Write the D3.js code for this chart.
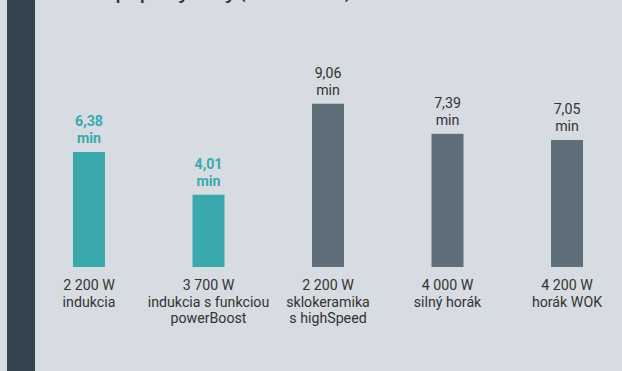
<!DOCTYPE html>
<html><head><meta charset="utf-8">
<script src="https://cdn.jsdelivr.net/npm/d3@7"></script>
<style>html,body{margin:0;padding:0;background:#d6dce1;overflow:hidden}</style>
</head><body>
<script>
const categories = ["2 200 W|indukcia", "3 700 W|indukcia s funkciou|powerBoost", "2 200 W|sklokeramika|s highSpeed", "4 000 W|silný horák", "4 200 W|horák WOK"];
const values = [6.38, 4.01, 9.06, 7.39, 7.05];
const valueLabels = ["6,38", "4,01", "9,06", "7,39", "7,05"];
const highlight = [true, true, false, false, false];
const title = "Čas prípravy vody (v minútach)";

const W = 622, H = 371;
const svg = d3.select("body").append("svg").attr("width", W).attr("height", H);
svg.append("rect").attr("width", W).attr("height", H).attr("fill", "#d6dce1");
svg.append("rect").attr("x", 7).attr("y", 0).attr("width", 28).attr("height", H).attr("fill", "#33444f");

svg.append("text").attr("x", 80).attr("y", -1).attr("font-family", "Noto Sans").attr("font-weight", 600)
  .attr("font-size", 18).attr("fill", "#333").text(title);

const x = d3.scalePoint().domain(d3.range(categories.length)).range([89, 567]);
const y = d3.scaleLinear().domain([0, 10]).range([267, 86.8]);
const bw = 32;
const teal = "#3aa9ad", grey = "#5e6f79";
const font = "Roboto";

const g = svg.append("g").attr("font-family", font);
g.selectAll("rect.bar").data(values).join("rect").attr("class", "bar")
  .attr("x", (d, i) => x(i) - bw / 2).attr("width", bw)
  .attr("y", d => y(d)).attr("height", d => y(0) - y(d))
  .attr("fill", (d, i) => highlight[i] ? teal : grey);

values.forEach((d, i) => {
  [valueLabels[i], "min"].forEach((t, j) => {
    g.append("text").attr("text-anchor", "middle").attr("font-size", 14.2)
      .attr("fill", highlight[i] ? teal : "#333")
      .attr("font-weight", highlight[i] ? "bold" : "normal")
      .attr("x", x(i)).attr("y", y(d) - 26 + j * 17).text(t);
  });
});

categories.forEach((c, i) => {
  c.split("|").forEach((line, j) => {
    g.append("text").attr("text-anchor", "middle").attr("font-size", 14.2).attr("fill", "#333")
      .attr("x", x(i)).attr("y", 290 + j * 16.6).text(line);
  });
});
</script>
</body></html>
